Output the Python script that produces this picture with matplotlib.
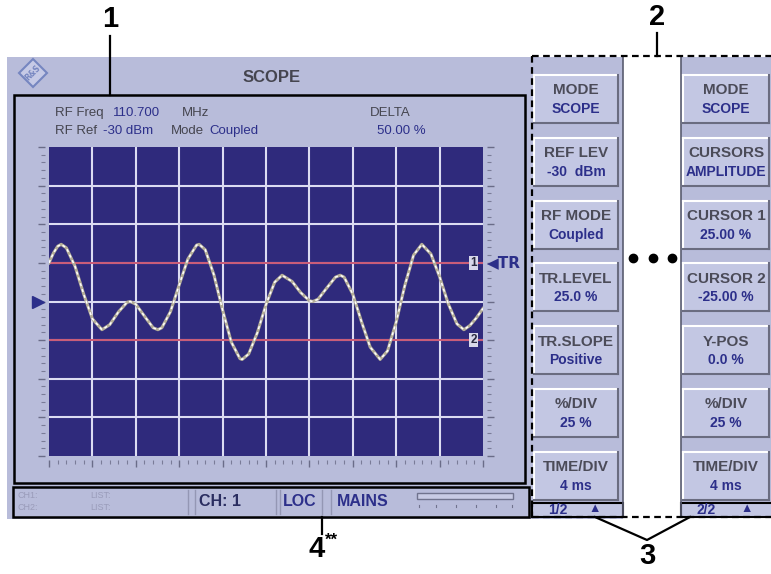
import matplotlib
matplotlib.use('Agg')
import matplotlib.pyplot as plt
from matplotlib.patches import Rectangle, Polygon

# trace (x in divisions 0..10, y in divisions -4..4)
trace_x = [0, 0.1, 0.2, 0.28, 0.4, 0.6, 0.8, 1.0, 1.22, 1.4, 1.6, 1.8, 1.87, 2.0, 2.2, 2.4, 2.51, 2.6,
           2.8, 3.0, 3.2, 3.4, 3.46, 3.6, 3.8, 4.0, 4.2, 4.4, 4.45, 4.6, 4.8, 5.0, 5.2, 5.37, 5.6,
           5.8, 6.0, 6.08, 6.2, 6.4, 6.6, 6.71, 6.8, 7.0, 7.2, 7.4, 7.63, 7.8, 8.0, 8.2, 8.4, 8.59,
           8.8, 9.0, 9.2, 9.4, 9.56, 9.7, 9.85, 10.0]
trace_y = [1.0, 1.25, 1.43, 1.48, 1.39, 0.91, 0.19, -0.45, -0.73, -0.60, -0.27, -0.02, 0.0, -0.07,
           -0.38, -0.68, -0.73, -0.68, -0.26, 0.43, 1.10, 1.46, 1.48, 1.34, 0.69, -0.22, -1.05,
           -1.48, -1.5, -1.36, -0.81, -0.08, 0.50, 0.68, 0.52, 0.23, 0.02, 0.0, 0.06, 0.35, 0.63,
           0.68, 0.63, 0.19, -0.52, -1.18, -1.5, -1.28, -0.53, 0.42, 1.20, 1.48, 1.23, 0.64, -0.06,
           -0.58, -0.73, -0.62, -0.42, -0.18]
cursor_levels = [1.0, -1.0]   # CURSOR 1 = 25 %, CURSOR 2 = -25 % at 25 %/DIV

keys_page1 = [('MODE', 'SCOPE'), ('REF LEV', '-30  dBm'), ('RF MODE', 'Coupled'),
              ('TR.LEVEL', '25.0 %'), ('TR.SLOPE', 'Positive'), ('%/DIV', '25 %'),
              ('TIME/DIV', '4 ms')]
keys_page2 = [('MODE', 'SCOPE'), ('CURSORS', 'AMPLITUDE'), ('CURSOR 1', '25.00 %'),
              ('CURSOR 2', '-25.00 %'), ('Y-POS', '0.0 %'), ('%/DIV', '25 %'),
              ('TIME/DIV', '4 ms')]

PANEL = '#b8bcda'
FACE = '#c3c7e3'
NAVY = '#2c2f8a'
GRAY = '#45454f'
FAM = ['Liberation Sans', 'DejaVu Sans']
W, H = 771, 574

fig = plt.figure(figsize=(W / 100, H / 100), dpi=100)
fig.patch.set_facecolor('white')
ax = fig.add_axes([0, 0, 1, 1])
ax.set_xlim(0, W)
ax.set_ylim(H, 0)
ax.axis('off')

lbl = dict(family=['Liberation Sans Narrow', 'Liberation Sans', 'DejaVu Sans'],
           fontweight='bold', color='black', ha='center', va='center')

# screen panels
ax.add_patch(Rectangle((7, 57), 616, 462, fc=PANEL, ec='none'))
ax.add_patch(Rectangle((681, 57), 95, 460, fc=PANEL, ec='none'))
ax.plot([623, 623], [57, 517], color='#5a5c70', lw=1.2)
ax.plot([681, 681], [57, 517], color='#5a5c70', lw=1.2)

# logo
ax.add_patch(Polygon([(33, 59), (47, 73), (33, 87), (19, 73)], closed=True,
                     fc='#c6cae6', ec='#7686c0', lw=1.5))
ax.text(33, 73, 'R&S', fontsize=5.5, color='#7686c0', ha='center', va='center',
        rotation=45, fontweight='bold')
ax.text(272, 77, 'SCOPE', fontsize=12, fontweight='bold', color=GRAY,
        ha='center', va='center', family=FAM)

# measurement box
ax.add_patch(Rectangle((14, 95), 511, 388, fc='none', ec='black', lw=1.8))
hdr = dict(fontsize=9.5, va='center', family=FAM)
ax.text(55, 113, 'RF Freq', color=GRAY, **hdr)
ax.text(113, 113, '110.700', color=NAVY, **hdr)
ax.text(182, 113, 'MHz', color=GRAY, **hdr)
ax.text(55, 131, 'RF Ref', color=GRAY, **hdr)
ax.text(103, 131, '-30 dBm', color=NAVY, **hdr)
ax.text(171, 131, 'Mode', color=GRAY, **hdr)
ax.text(209, 131, 'Coupled', color=NAVY, **hdr)
ax.text(370, 113, 'DELTA', color=GRAY, **hdr)
ax.text(377, 131, '50.00 %', color=NAVY, **hdr)

# status bar
ax.add_patch(Rectangle((13, 487), 516, 30, fc=PANEL, ec='black', lw=1.8))
for x0 in [188, 195, 276, 280, 322, 331]:
    ax.plot([x0, x0], [490, 514], color='#9497b4', lw=1)
small = dict(fontsize=6.5, color='#9a9cba', va='center', family=FAM)
ax.text(17, 495, 'CH1:', **small)
ax.text(17, 508, 'CH2:', **small)
ax.text(90, 495, 'LIST:', **small)
ax.text(90, 508, 'LIST:', **small)
st = dict(fontsize=11.5, fontweight='bold', va='center', ha='center', family=FAM)
ax.text(220, 501, 'CH: 1', color='#2a2d60', **st)
ax.text(300, 501, 'LOC', color=NAVY, **st)
ax.text(363, 501, 'MAINS', color=NAVY, **st)
ax.add_patch(Rectangle((417, 493), 96, 6, fc='#c8cbe5', ec='#70738e', lw=1))
for xt in [419, 436, 456, 476, 496, 512]:
    ax.plot([xt, xt], [505, 507], color='#70738e', lw=0.8)

# softkeys
def softkey(x0, y0, w, h, top, bottom):
    ax.add_patch(Rectangle((x0, y0), w, h, fc=FACE, ec='none'))
    ax.plot([x0, x0 + w], [y0, y0], color='white', lw=1.5)
    ax.plot([x0, x0], [y0, y0 + h], color='white', lw=1.5)
    ax.plot([x0, x0 + w], [y0 + h, y0 + h], color='#6a6c80', lw=1.5)
    ax.plot([x0 + w, x0 + w], [y0, y0 + h], color='#6a6c80', lw=1.5)
    ax.text(x0 + w / 2, y0 + h * 0.32, top, fontsize=11, fontweight='bold', color='#4b4b58',
            ha='center', va='center', family=FAM)
    ax.text(x0 + w / 2, y0 + h * 0.71, bottom, fontsize=10, fontweight='bold', color=NAVY,
            ha='center', va='center', family=FAM)

for i, (t, b) in enumerate(keys_page1):
    softkey(534, 75 + i * 62.8, 84, 48, t, b)
for i, (t, b) in enumerate(keys_page2):
    softkey(683, 75 + i * 62.8, 86, 48, t, b)

ax.add_patch(Rectangle((532, 503), 91, 14, fc=FACE, ec='black', lw=1.5))
ax.add_patch(Rectangle((681, 503), 95, 14, fc=FACE, ec='black', lw=1.5))
ax.text(558, 510, '1/2', fontsize=10, fontweight='bold', color=NAVY, ha='center', va='center',
        family=FAM)
ax.text(595, 509, '\u25B2', fontsize=9, color=NAVY, ha='center', va='center', family=FAM)
ax.text(706, 510, '2/2', fontsize=10, fontweight='bold', color=NAVY, ha='center', va='center',
        family=FAM)
ax.text(747, 509, '\u25B2', fontsize=9, color=NAVY, ha='center', va='center', family=FAM)

# dashed callouts
ax.plot([532, 532], [56, 517], color='black', lw=1.6, ls=(0, (3, 2)))
ax.plot([532, 771], [56, 56], color='black', lw=1.6, ls=(0, (3, 2)))
ax.plot([532, 771], [517, 517], color='black', lw=1.6, ls=(0, (3, 2)))
for xd in [633, 653, 672]:
    ax.plot(xd, 258, 'o', color='black', ms=6)

# number labels and leader lines
ax.text(110, 19, '1', fontsize=21, **lbl)
ax.plot([110, 110], [36, 95], color='black', lw=1.6)
ax.text(657, 17, '2', fontsize=21, **lbl)
ax.plot([657, 657], [33, 56], color='black', lw=1.6)
ax.text(647, 556, '3', fontsize=21, **lbl)
ax.plot([595, 647, 690], [517, 540, 517], color='black', lw=1.6)
ax.text(317, 549, '4', fontsize=21, **lbl)
ax.text(331, 540, '**', fontsize=12, **lbl)
ax.plot([322, 322], [517, 534], color='black', lw=1.6)

# scope display
sc = fig.add_axes([49 / W, 1 - 456 / H, 434 / W, 309 / H])
sc.set_facecolor('#2f2a7c')
sc.set_xlim(0, 10)
sc.set_ylim(-4, 4)
for s in ['top', 'left', 'right', 'bottom']:
    sc.spines[s].set_visible(False)
for s in ['left', 'right', 'bottom']:
    sc.spines[s].set_position(('outward', 3))
sc.set_xticks(range(0, 11))
sc.set_xticks([i / 5 for i in range(51)], minor=True)
sc.set_yticks(range(-4, 5))
sc.set_yticks([i / 5 - 4 for i in range(41)], minor=True)
sc.tick_params(which='major', length=5, width=1, color='#6a6c88', labelbottom=False,
               labelleft=False, left=True, right=True, bottom=True, direction='out')
sc.tick_params(which='minor', length=3, width=0.8, color='#7a7c98', left=True, right=True,
               bottom=True, direction='out')
for v in range(1, 10):
    sc.axvline(v, color='#dcdcf2', lw=1.5, zorder=1)
for v in range(-3, 4):
    sc.axhline(v, color='#dcdcf2', lw=1.5, zorder=1)
for c in cursor_levels:
    sc.axhline(c, color='#c8506c', lw=1.3, zorder=2)

sc.plot(trace_x, trace_y, color='#b4ae98', lw=2.2, zorder=3, solid_joinstyle='round')
sc.plot(trace_x, trace_y, color='white', lw=1.1, ls=(0, (2, 2)), zorder=4)

sc.plot(-0.26, 0, marker='>', color=NAVY, ms=8, clip_on=False, zorder=5)
sc.text(9.78, 1.0, '1', fontsize=8.5, fontweight='bold', color='#2a2a40', ha='center',
        va='center', family=FAM,
        bbox=dict(boxstyle='square,pad=0.1', fc='#d8d8ea', ec='none'), zorder=6)
sc.text(9.78, -1.0, '2', fontsize=8.5, fontweight='bold', color='#2a2a40', ha='center',
        va='center', family=FAM,
        bbox=dict(boxstyle='square,pad=0.1', fc='#d8d8ea', ec='none'), zorder=6)
sc.text(10.1, 1.0, '\u25C0TR', fontsize=11, fontweight='bold', color=NAVY, ha='left',
        va='center', clip_on=False, family=['DejaVu Sans'])

fig.savefig('out.png', dpi=100)
